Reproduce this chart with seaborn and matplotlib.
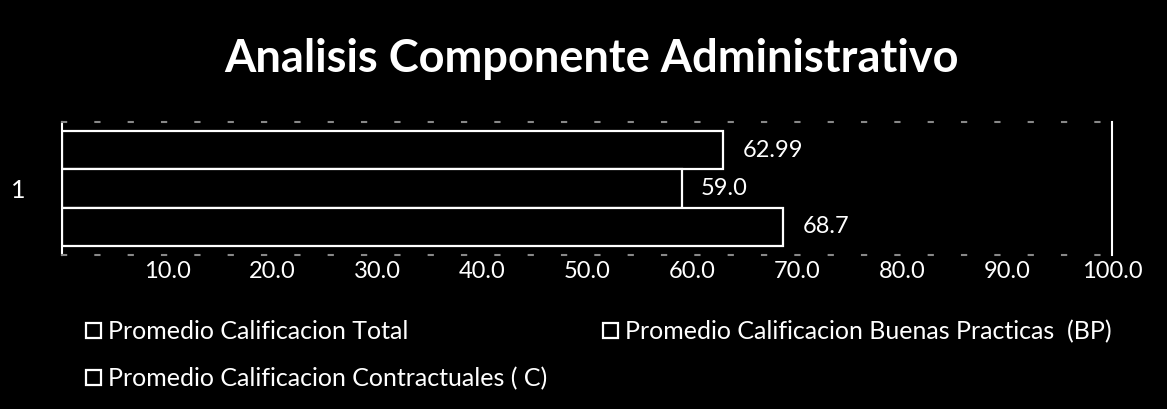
import matplotlib
matplotlib.use("Agg")
import matplotlib.pyplot as plt
import seaborn as sns
import pandas as pd

categories = ["1"]
series = ["Promedio Calificacion Total",
          "Promedio Calificacion Buenas Practicas  (BP)",
          "Promedio Calificacion Contractuales ( C)"]
values = [62.99, 59.0, 68.7]
value_labels = ["62.99", "59.0", "68.7"]
tick_values = [10, 20, 30, 40, 50, 60, 70, 80, 90, 100]
tick_labels = ["10.0", "20.0", "30.0", "40.0", "50.0", "60.0", "70.0", "80.0", "90.0", "100.0"]

sns.set_style("dark")
plt.rcParams["font.family"] = ["Lato", "DejaVu Sans"]

df = pd.DataFrame({"cat": categories * len(series), "serie": series, "valor": values})

fig = plt.figure(figsize=(11.67, 4.09), dpi=100, facecolor="black")
ax = fig.add_axes([62/1167, 1 - 255/409, (1112 - 62)/1167, (255 - 122)/409])
ax.set_facecolor("black")

sns.barplot(data=df, x="valor", y="cat", hue="serie", hue_order=series,
            orient="h", ax=ax, width=0.86, palette=["black"] * 3,
            edgecolor="white", linewidth=1.6, legend=True)

for cont, lab in zip(ax.containers, value_labels):
    ax.bar_label(cont, labels=[lab], padding=14, color="white", fontsize=17)

ax.set_xlim(0, 100)
ax.set_xticks(tick_values)
ax.set_xticklabels(tick_labels, color="white", fontsize=17)
ax.tick_params(axis="x", length=0, pad=4)
ax.tick_params(axis="y", length=0, pad=26, labelcolor="white", labelsize=18)
ax.set_xlabel("")
ax.set_ylabel("")
ax.grid(False)
for s in ["left", "right"]:
    ax.spines[s].set_visible(True)
    ax.spines[s].set_color("white")
    ax.spines[s].set_linewidth(1.5)
for s in ["top", "bottom"]:
    ax.spines[s].set_visible(True)
    ax.spines[s].set_color("#888888")
    ax.spines[s].set_linestyle((0, (2, 14)))
    ax.spines[s].set_linewidth(1.5)

fig.text(591/1167, 1 - 59/409, "Analisis Componente Administrativo", ha="center", va="center",
         color="white", fontsize=32.5, fontweight="bold")

h, l = ax.get_legend_handles_labels()
ax.get_legend().remove()
order = [0, 2, 1]
leg = fig.legend([h[i] for i in order], [l[i] for i in order], ncol=2,
                 loc="upper left", bbox_to_anchor=(86/1167, 1 - 320/409),
                 borderaxespad=0, borderpad=0,
                 frameon=False, fontsize=18, labelcolor="white",
                 handlelength=0.6, handleheight=0.6, handletextpad=0.3,
                 columnspacing=2.2, labelspacing=0.95)

fig.savefig("out.png", dpi=100, facecolor="black")
